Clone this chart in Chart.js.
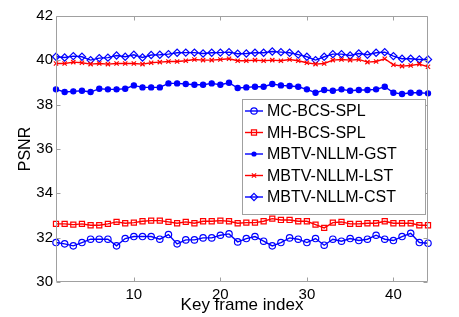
<!DOCTYPE html>
<html><head><meta charset="utf-8">
<script src="https://cdn.jsdelivr.net/npm/chart.js@4.4.0/dist/chart.umd.min.js"></script>
<style>html,body{margin:0;padding:0;background:#fff;}#wrap{width:459px;height:317px;}</style>
</head><body><div id="wrap"><canvas id="c" width="459" height="317"></canvas></div>
<script>
const frames = [1,2,3,4,5,6,7,8,9,10,11,12,13,14,15,16,17,18,19,20,21,22,23,24,25,26,27,28,29,30,31,32,33,34,35,36,37,38,39,40,41,42,43,44];
const xTicks = [10,20,30,40];
const yTicks = [30,32,34,36,38,40,42];
const seriesNames = ['MC-BCS-SPL','MH-BCS-SPL','MBTV-NLLM-GST','MBTV-NLLM-LST','MBTV-NLLM-CST'];
const mc = [31.78,31.72,31.63,31.78,31.93,31.93,31.93,31.63,31.96,32.05,32.05,32.05,31.93,32.14,31.72,31.90,31.90,31.99,31.99,32.11,32.17,31.81,31.96,32.05,31.84,31.63,31.78,31.99,31.93,31.78,31.96,31.66,31.93,31.84,31.96,31.87,31.93,32.11,31.93,31.87,32.05,32.20,31.78,31.75];
const mh = [32.62,32.62,32.59,32.62,32.56,32.56,32.62,32.71,32.65,32.68,32.74,32.77,32.77,32.71,32.65,32.71,32.65,32.74,32.74,32.77,32.74,32.65,32.68,32.68,32.74,32.86,32.80,32.80,32.74,32.74,32.59,32.44,32.68,32.71,32.62,32.62,32.65,32.65,32.74,32.65,32.65,32.65,32.56,32.56];
const gst = [38.69,38.57,38.60,38.63,38.57,38.72,38.69,38.69,38.72,38.87,38.78,38.78,38.78,38.96,38.96,38.93,38.90,38.90,38.96,38.90,38.99,38.75,38.78,38.81,38.81,38.93,38.87,38.84,38.81,38.69,38.54,38.66,38.63,38.69,38.63,38.66,38.66,38.69,38.81,38.54,38.48,38.54,38.54,38.51];
const lst = [39.86,39.86,39.92,39.89,39.83,39.86,39.83,39.86,39.86,39.86,39.83,39.89,39.92,39.95,39.95,39.98,40.04,40.01,40.01,40.04,40.07,39.98,39.98,40.01,39.98,40.01,39.98,40.04,39.98,39.89,39.83,39.86,40.01,40.04,40.01,40.04,39.92,39.95,40.07,39.80,39.74,39.77,39.83,39.71];
const cst = [40.16,40.13,40.19,40.16,40.01,40.10,40.12,40.22,40.16,40.25,40.13,40.24,40.25,40.28,40.34,40.35,40.35,40.31,40.34,40.35,40.37,40.30,40.31,40.34,40.34,40.40,40.37,40.34,40.26,40.16,40.01,40.16,40.28,40.28,40.22,40.31,40.25,40.34,40.37,40.19,40.07,40.07,40.04,40.04];

const FONT = '"Liberation Sans", Arial, sans-serif';
const BLUE = '#0000ff', RED = '#ff0000';
const styles = [
  {color: BLUE, point: 'circle', r: 3.2, fill: false},
  {color: RED, point: 'rect', r: 3.6, fill: false},
  {color: BLUE, point: 'circle', r: 2.6, fill: true},
  {color: RED, point: 'crossRot', r: 3, fill: false},
  {color: BLUE, point: 'rectRot', r: 3.6, fill: false}
];
const allData = [mc, mh, gst, lst, cst];

const datasets = allData.map((arr, k) => ({
  label: seriesNames[k],
  data: frames.map((f, i) => ({x: f, y: arr[i]})),
  borderColor: styles[k].color,
  backgroundColor: styles[k].fill ? styles[k].color : 'rgba(255,255,255,0)',
  pointStyle: styles[k].point,
  pointRadius: styles[k].r,
  pointBorderColor: styles[k].color,
  pointBackgroundColor: styles[k].fill ? styles[k].color : 'rgba(255,255,255,0)',
  pointBorderWidth: 1.2,
  borderWidth: 1.4,
  tension: 0,
  clip: 8
}));

function drawMarker(ctx, s, x, y) {
  ctx.save();
  ctx.strokeStyle = s.color; ctx.fillStyle = s.color; ctx.lineWidth = 1.2;
  const r = s.r;
  ctx.beginPath();
  if (s.point === 'circle') {
    ctx.arc(x, y, r, 0, Math.PI * 2);
    if (s.fill) ctx.fill(); else ctx.stroke();
  } else if (s.point === 'rect') {
    const h = Math.SQRT1_2 * r;
    ctx.rect(x - h, y - h, 2 * h, 2 * h); ctx.stroke();
  } else if (s.point === 'rectRot') {
    ctx.moveTo(x, y - r); ctx.lineTo(x + r, y); ctx.lineTo(x, y + r); ctx.lineTo(x - r, y); ctx.closePath(); ctx.stroke();
  } else if (s.point === 'crossRot') {
    const h = Math.SQRT1_2 * r;
    ctx.moveTo(x - h, y - h); ctx.lineTo(x + h, y + h);
    ctx.moveTo(x + h, y - h); ctx.lineTo(x - h, y + h); ctx.stroke();
  }
  ctx.restore();
}

const boxPlugin = {
  id: 'box',
  afterDraw(chart) {
    const ctx = chart.ctx, a = chart.chartArea;
    const xs = chart.scales.x, ys = chart.scales.y;
    ctx.save();
    ctx.strokeStyle = '#a0a0a0'; ctx.lineWidth = 1;
    const L = Math.round(a.left) + 0.5, R = Math.round(a.right) - 0.5, T = Math.round(a.top) + 0.5, B = Math.round(a.bottom) - 0.5;
    ctx.beginPath();
    ctx.rect(L, T, R - L, B - T);
    xTicks.forEach(v => {
      const px = Math.round(xs.getPixelForValue(v)) + 0.5;
      ctx.moveTo(px, B); ctx.lineTo(px, B - 4);
      ctx.moveTo(px, T); ctx.lineTo(px, T + 4);
    });
    yTicks.forEach(v => {
      const py = Math.round(ys.getPixelForValue(v)) + 0.5;
      ctx.moveTo(L, py); ctx.lineTo(L + 4, py);
      ctx.moveTo(R, py); ctx.lineTo(R - 4, py);
    });
    ctx.stroke();

    // legend
    const lx = 242.5, ly = 99.5, lw = 183, lh = 115;
    ctx.fillStyle = '#fff';
    ctx.fillRect(lx, ly, lw, lh);
    ctx.strokeStyle = '#a0a0a0';
    ctx.strokeRect(lx, ly, lw, lh);
    ctx.font = '16px ' + FONT;
    ctx.textBaseline = 'middle';
    ctx.textAlign = 'left';
    seriesNames.forEach((name, k) => {
      const y = 111 + k * 21.5;
      const s = styles[k];
      ctx.strokeStyle = s.color; ctx.lineWidth = 1.4;
      ctx.beginPath(); ctx.moveTo(245, y); ctx.lineTo(263, y); ctx.stroke();
      drawMarker(ctx, s, 254, y);
      ctx.fillStyle = '#000';
      ctx.fillText(name, 267, y + 1);
    });
    ctx.restore();
  }
};

new Chart(document.getElementById('c'), {
  type: 'line',
  data: {datasets},
  plugins: [boxPlugin],
  options: {
    responsive: false,
    animation: false,
    devicePixelRatio: 1,
    layout: {padding: {top: 16, right: 31, left: 0, bottom: 0}},
    plugins: {legend: {display: false}, tooltip: {enabled: false}},
    scales: {
      x: {
        type: 'linear', min: 1, max: 44,
        afterBuildTicks: s => { s.ticks = xTicks.map(v => ({value: v})); },
        afterFit: s => { s.height = 35; },
        grid: {display: false, drawTicks: false},
        border: {display: false},
        ticks: {color: '#000', font: {family: FONT, size: 15}, padding: 4, maxRotation: 0, autoSkip: false},
        title: {display: true, text: 'Key frame index', color: '#000', font: {family: FONT, size: 17}, padding: {top: 0, bottom: 1}}
      },
      y: {
        type: 'linear', min: 30, max: 42,
        afterBuildTicks: s => { s.ticks = yTicks.map(v => ({value: v})); },
        afterFit: s => { s.width = 56; },
        grid: {display: false, drawTicks: false},
        border: {display: false},
        ticks: {color: '#000', font: {family: FONT, size: 15}, padding: 3, autoSkip: false},
        title: {display: true, text: 'PSNR', color: '#000', font: {family: FONT, size: 16}, padding: {top: 16, bottom: 0}}
      }
    }
  }
});
</script></body></html>
